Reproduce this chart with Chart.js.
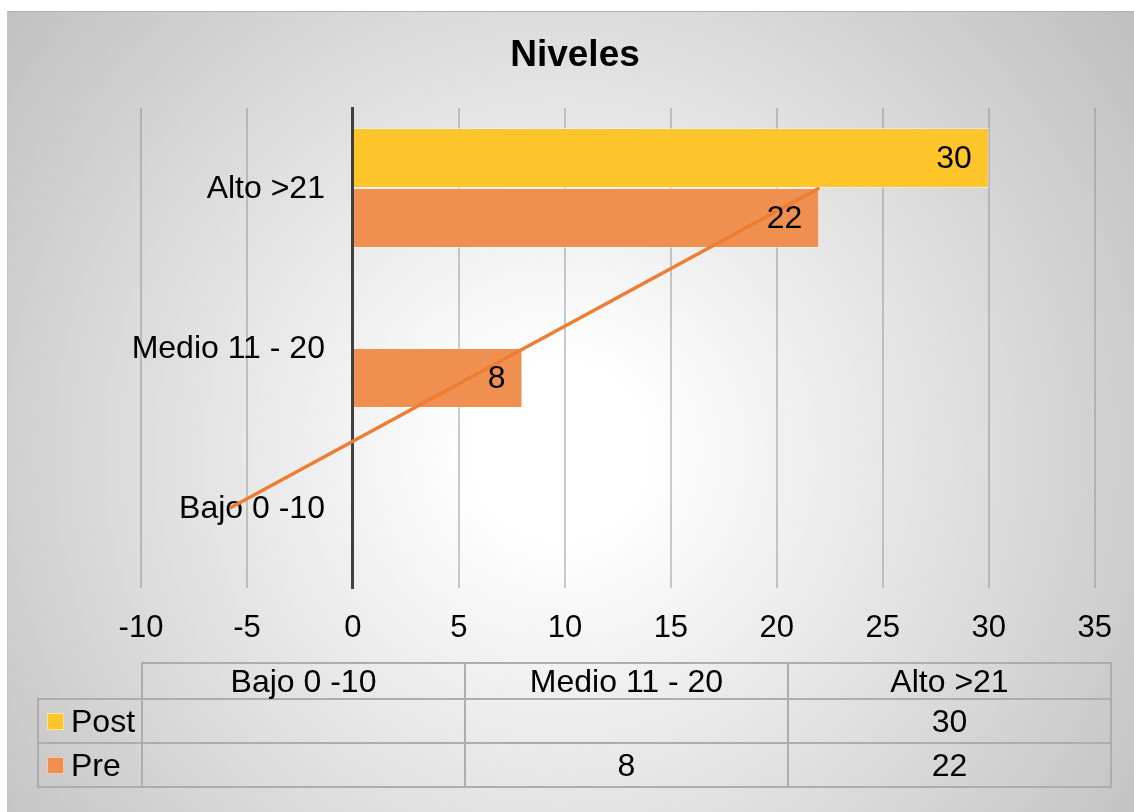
<!DOCTYPE html>
<html>
<head>
<meta charset="utf-8">
<script src="https://cdn.jsdelivr.net/npm/chart.js@4.4.1/dist/chart.umd.min.js"></script>
<style>
  body { margin: 0; background: #fff; width: 1134px; height: 812px; overflow: hidden; position: relative;
         font-family: "Liberation Sans", Arial, sans-serif; }
  #card { position: absolute; left: 7px; top: 11px; width: 1127px; height: 801px;
          background: radial-gradient(circle farthest-corner at 49% 55%, #ffffff 0%, #ffffff 12%, #bfbfbf 100%);
          border-top: 1px solid #b4b4b4; border-left: 1px solid #c4c4c4; box-sizing: border-box; }
  #chart { position: absolute; left: 0; top: 0; }
  #dataTable { position: absolute; left: 37px; top: 662px; border-collapse: collapse; font-size: 32px; color: #000; }
  #dataTable td { border: 2px solid #adadad; padding: 0; text-align: center; line-height: 1; }
  #dataTable td.blank { border-top: none; border-left: none; }
  #dataTable td.key { text-align: left; width: 102px; white-space: nowrap; }
  #dataTable td.val { width: 321px; }
  #dataTable tr.head td { height: 34px; }
  #dataTable tr.row td { height: 42px; }
  .swatch { display: inline-block; width: 15px; height: 15px; margin: 0 7px 0 8px; vertical-align: 2px;
            border: 1px solid rgba(255,255,255,0.5); }
</style>
</head>
<body>
<div id="card"></div>
<canvas id="chart" width="1134" height="812"></canvas>
<table id="dataTable"></table>
<script>
const chartTitle = "Niveles"
// categories, bottom to top on the chart
const categories = ["Bajo 0 -10", "Medio 11 - 20", "Alto >21"]
const postValues = [null, null, 30]
const preValues = [null, 8, 22]
// orange trend line
const trendValues = [-5.8, 8.1, 22]
const seriesNames = ["Post", "Pre"]
const seriesColors = ["#fec62a", "#ef8f50"]
const xTicks = [-10, -5, 0, 5, 10, 15, 20, 25, 30, 35]

const FONT = '"Liberation Sans", Arial'

// data table under the chart
const table = document.getElementById("dataTable")
let html = '<tr class="head"><td class="blank"></td>'
categories.forEach(c => { html += `<td class="val">${c}</td>` })
html += "</tr>"
;[postValues, preValues].forEach((vals, i) => {
  html += `<tr class="row"><td class="key"><span class="swatch" style="background:${seriesColors[i]}"></span>${seriesNames[i]}</td>`
  vals.forEach(v => { html += `<td class="val">${v == null ? "" : v}</td>` })
  html += "</tr>"
})
table.innerHTML = html

// title centred on the whole card, not on the plot area
const titlePlugin = {
  id: "cardTitle",
  afterDraw(chart) {
    const ctx = chart.ctx
    ctx.save()
    ctx.font = `bold 37px ${FONT}`
    ctx.fillStyle = "#000"
    ctx.textAlign = "center"
    ctx.textBaseline = "middle"
    ctx.fillText(chartTitle, 575, 56)
    ctx.restore()
  }
}

// category names sit left of the zero line, inside the plot
const categoryLabels = {
  id: "categoryLabels",
  beforeDatasetsDraw(chart) {
    const ctx = chart.ctx
    const x = chart.scales.x.getPixelForValue(0) - 28
    ctx.save()
    ctx.font = `32px ${FONT}`
    ctx.fillStyle = "#000"
    ctx.textAlign = "right"
    ctx.textBaseline = "middle"
    categories.forEach((c, i) => {
      ctx.fillText(c, x, chart.scales.y.getPixelForValue(i) + 1)
    })
    ctx.restore()
  }
}

const valueLabels = {
  id: "valueLabels",
  afterDatasetsDraw(chart) {
    const ctx = chart.ctx
    ctx.save()
    ctx.font = `32px ${FONT}`
    ctx.fillStyle = "#000"
    ctx.textAlign = "right"
    ctx.textBaseline = "middle"
    chart.data.datasets.forEach((ds, i) => {
      if (ds.type === "line") return
      chart.getDatasetMeta(i).data.forEach((bar, j) => {
        if (ds.data[j] == null) return
        ctx.fillText(ds.data[j], bar.x - 17, bar.y + 1)
      })
    })
    ctx.restore()
  }
}

new Chart(document.getElementById("chart").getContext("2d"), {
  type: "bar",
  data: {
    labels: categories,
    datasets: [
      {label: seriesNames[0], data: postValues, backgroundColor: seriesColors[0],
       borderColor: "rgba(255,255,255,0.45)", borderWidth: 1, order: 2},
      {label: seriesNames[1], data: preValues, backgroundColor: seriesColors[1],
       borderColor: "rgba(255,255,255,0.45)", borderWidth: 1, order: 2},
      {type: "line", label: "Tendencia", data: trendValues, borderColor: "#ed7d31",
       borderWidth: 3.5, pointRadius: 0, fill: false, tension: 0, order: 1}
    ]
  },
  options: {
    indexAxis: "y",
    responsive: false,
    animation: false,
    categoryPercentage: 0.75,
    barPercentage: 1,
    layout: {padding: {left: 141, right: 39, top: 108, bottom: 0}},
    plugins: {
      legend: {display: false},
      tooltip: {enabled: false},
      title: {display: false}
    },
    scales: {
      x: {
        type: "linear",
        min: -10,
        max: 35,
        afterBuildTicks: (scale) => { scale.ticks = xTicks.map(v => ({value: v})) },
        afterFit: (scale) => { scale.height = 224 },
        grid: {color: "rgba(140,140,140,0.45)", lineWidth: 2, drawTicks: false},
        border: {display: false},
        ticks: {color: "#000", font: {family: FONT, size: 31}, padding: 22}
      },
      y: {
        type: "category",
        reverse: true,
        offset: true,
        position: {x: 0},
        grid: {display: false, drawTicks: false},
        border: {display: true, color: "#404040", width: 3},
        ticks: {display: false}
      }
    }
  },
  plugins: [titlePlugin, categoryLabels, valueLabels]
})
</script>
</body>
</html>
